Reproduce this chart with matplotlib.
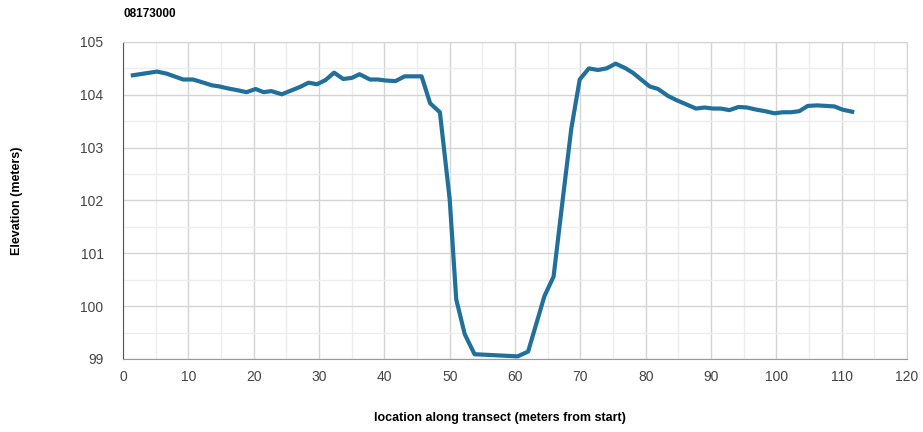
import numpy as np
import matplotlib.pyplot as plt
from matplotlib.ticker import MultipleLocator

plt.rcParams['font.family'] = ['Liberation Sans', 'DejaVu Sans']

station = "08173000"

# distance along the transect (m) and surveyed ground elevation (m)
distance = [1.5, 5.2, 6.7, 9.2, 10.7, 11.8, 13.6, 14.7, 16.1, 17.4, 18.9, 20.3,
            21.5, 22.7, 24.3, 25.5, 27.1, 28.4, 29.7, 31.0, 32.3, 33.7, 35.0,
            36.2, 37.8, 39.0, 40.3, 41.7, 43.1, 44.6, 45.7, 47.0, 48.5, 50.0,
            51.0, 52.3, 53.8, 60.4, 62.0, 64.5, 65.9, 67.3, 68.6, 69.9, 71.3,
            72.7, 74.0, 75.4, 76.8, 78.0, 79.3, 80.6, 81.9, 83.4, 84.7, 86.2,
            87.7, 89.0, 90.3, 91.5, 92.8, 94.2, 95.5, 96.9, 98.3, 99.7, 101.0,
            102.2, 103.5, 104.8, 106.3, 107.6, 108.9, 110.1, 111.6]
elevation = [104.37, 104.44, 104.40, 104.29, 104.29, 104.25, 104.18, 104.16,
             104.12, 104.09, 104.05, 104.11, 104.05, 104.07, 104.01, 104.07,
             104.15, 104.23, 104.20, 104.28, 104.42, 104.30, 104.32, 104.39,
             104.29, 104.29, 104.27, 104.26, 104.35, 104.35, 104.35, 103.84,
             103.67, 102.02, 100.13, 99.47, 99.09, 99.05, 99.14, 100.19,
             100.56, 102.02, 103.35, 104.29, 104.50, 104.47, 104.50, 104.59,
             104.51, 104.42, 104.29, 104.16, 104.11, 103.98, 103.90, 103.82,
             103.74, 103.76, 103.74, 103.74, 103.71, 103.77, 103.76, 103.72,
             103.69, 103.65, 103.67, 103.67, 103.69, 103.79, 103.80, 103.79,
             103.78, 103.72, 103.68]

fig = plt.figure(figsize=(9.23, 4.32), dpi=100)
ax = fig.add_axes([0.1333, 0.169, 0.8494, 0.7338])

ax.plot(distance, elevation, color='#21709c', linewidth=3.0,
        solid_joinstyle='round', zorder=3)

ax.set_xlim(0, 120)
ax.set_ylim(99, 105)
ax.xaxis.set_major_locator(MultipleLocator(10))
ax.xaxis.set_minor_locator(MultipleLocator(5))
ax.yaxis.set_major_locator(MultipleLocator(1))
ax.yaxis.set_minor_locator(MultipleLocator(0.5))

ax.grid(which='major', color='#d4d4d4', linewidth=1.0)
ax.grid(which='minor', color='#ededed', linewidth=1.0)
ax.set_axisbelow(True)

ax.tick_params(which='both', length=0, labelsize=10, labelcolor='#444444')
ax.tick_params(axis='x', pad=8)
ax.tick_params(axis='y', pad=14)

for side in ['top', 'right']:
    ax.spines[side].set_color('#d4d4d4')
ax.spines['left'].set_color('#555555')
ax.spines['bottom'].set_color('#999999')

fig.text(0.542, 0.032, "location along transect (meters from start)", fontsize=9,
         fontweight='bold', ha='center', va='center')
fig.text(0.018, 0.536, "Elevation (meters)", fontsize=9, fontweight='bold',
         rotation=90, ha='center', va='center')
fig.text(0.1333, 0.967, station, fontsize=8.5, fontweight='bold', ha='left', va='center')

fig.savefig('out.png', dpi=100)
